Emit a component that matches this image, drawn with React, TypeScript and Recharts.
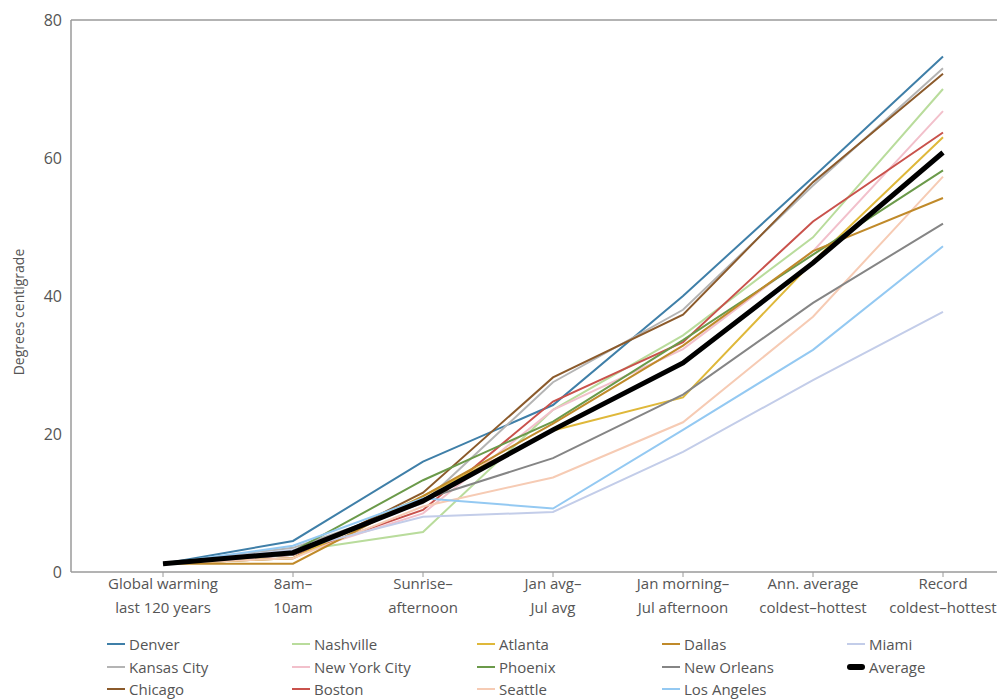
import React from 'react';
import { LineChart, Line, XAxis, YAxis, ReferenceLine } from 'recharts';

// Categories along the x axis (two-line labels)
const categories = [
    'Global warming\nlast 120 years',
    '8am–\n10am',
    'Sunrise–\nafternoon',
    'Jan avg–\nJul avg',
    'Jan morning–\nJul afternoon',
    'Ann. average\ncoldest–hottest',
    'Record\ncoldest–hottest',
];

const yTicks = [0, 20, 40, 60, 80];

// Values, one per category
const denver = [1.2, 4.5, 16.0, 24.2, 40.0, 57.2, 74.7];
const kansasCity = [1.2, 3.5, 10.0, 27.5, 38.0, 56.0, 73.0];
const chicago = [1.2, 2.0, 11.5, 28.2, 37.3, 56.5, 72.2];
const nashville = [1.2, 3.0, 5.8, 23.5, 34.3, 48.5, 70.0];
const newYorkCity = [1.2, 2.5, 8.5, 23.5, 32.3, 46.5, 66.8];
const boston = [1.2, 2.5, 9.0, 24.7, 33.3, 50.8, 63.7];
const atlanta = [1.2, 2.0, 11.0, 20.5, 25.3, 45.0, 63.0];
const phoenix = [1.2, 3.0, 13.3, 21.8, 33.6, 46.0, 58.2];
const seattle = [1.2, 2.0, 9.5, 13.7, 21.7, 37.0, 57.3];
const dallas = [1.2, 1.2, 11.0, 21.5, 32.8, 46.5, 54.2];
const newOrleans = [1.2, 2.5, 10.5, 16.5, 25.7, 39.0, 50.5];
const losAngeles = [1.2, 3.8, 10.7, 9.2, 20.6, 32.2, 47.2];
const miami = [1.2, 3.2, 8.0, 8.7, 17.4, 27.8, 37.7];
const average = [1.2, 2.8, 10.3, 20.6, 30.3, 44.8, 60.8];

const series = [
    { key: 'Denver', values: denver, color: '#3f7fa8' },
    { key: 'Kansas City', values: kansasCity, color: '#b4b4b4' },
    { key: 'Chicago', values: chicago, color: '#8b5a2b' },
    { key: 'Nashville', values: nashville, color: '#b9dc9c' },
    { key: 'New York City', values: newYorkCity, color: '#f2c0cb' },
    { key: 'Boston', values: boston, color: '#c9524c' },
    { key: 'Atlanta', values: atlanta, color: '#dfb83a' },
    { key: 'Phoenix', values: phoenix, color: '#6b9a4a' },
    { key: 'Seattle', values: seattle, color: '#f6cbb4' },
    { key: 'Dallas', values: dallas, color: '#c08a2a' },
    { key: 'New Orleans', values: newOrleans, color: '#858585' },
    { key: 'Los Angeles', values: losAngeles, color: '#94c9f2' },
    { key: 'Miami', values: miami, color: '#c3cde9' },
    { key: 'Average', values: average, color: '#000000' },
];

const data = categories.map((name, i) => {
    const row: Record<string, any> = { name };
    series.forEach(s => { row[s.key] = s.values[i]; });
    return row;
});

const FONT = '"Open Sans", "Noto Sans", sans-serif';
const AXIS = '#9a9a9a';
const TEXT = '#555';

const XTick = ({ x, y, payload }: any) => {
    const lines = String(payload.value).split('\n');
    return (
        <text x={x} y={y} textAnchor="middle" fill={TEXT} fontSize={15} fontFamily={FONT}>
            {lines.map((l, i) => (
                <tspan key={i} x={x} dy={i === 0 ? 10 : 24}>{l}</tspan>
            ))}
        </text>
    );
};

const YLabel = ({ viewBox }: any) => {
    const cx = 18;
    const cy = viewBox.y + viewBox.height / 2 + 16;
    return (
        <text x={cx} y={cy} transform={`rotate(-90 ${cx} ${cy})`} textAnchor="middle"
            dominantBaseline="central" fill={TEXT} fontSize={14} fontFamily={FONT}>
            Degrees centigrade
        </text>
    );
};

// Legend: 3 rows, filled column by column
const ChartLegend = () => (
    <div style={{
        position: 'absolute',
        top: 633,
        left: 107,
        display: 'grid',
        gridAutoFlow: 'column',
        gridTemplateRows: 'repeat(3, 22.5px)',
        gridTemplateColumns: 'repeat(5, 185px)',
        fontFamily: FONT,
        fontSize: 15,
        color: TEXT,
    }}>
        {series.map(s => (
            <div key={s.key} style={{ display: 'flex', alignItems: 'center' }}>
                <span style={{
                    display: 'inline-block',
                    width: 18,
                    height: s.key === 'Average' ? 6 : 2,
                    borderRadius: s.key === 'Average' ? 3 : 0,
                    background: s.color,
                    marginRight: 4,
                }} />
                {s.key}
            </div>
        ))}
    </div>
);

export default function App() {
    return (
        <div style={{ position: 'absolute', left: 0, top: 0, width: 1006, height: 700, background: '#fff' }}>
            <LineChart width={1006} height={700} data={data}
                margin={{ top: 20, right: 9, left: 0, bottom: 68 }}>
                <XAxis
                    dataKey="name"
                    interval={0}
                    padding={{ left: 92, right: 54 }}
                    tick={<XTick />}
                    tickSize={5}
                    tickLine={{ stroke: AXIS }}
                    axisLine={{ stroke: AXIS, strokeWidth: 1.5 }}
                    height={60}
                />
                <YAxis
                    domain={[0, 80]}
                    ticks={yTicks}
                    width={71}
                    tickSize={0}
                    tickMargin={9}
                    tick={{ fill: TEXT, fontSize: 16, fontFamily: FONT }}
                    axisLine={{ stroke: AXIS, strokeWidth: 1.5 }}
                    label={YLabel}
                />
                <YAxis yAxisId="right" orientation="right" domain={[0, 80]} tick={false} tickLine={false}
                    axisLine={{ stroke: AXIS, strokeWidth: 1.5 }} width={0} />
                <ReferenceLine y={80} stroke={AXIS} strokeWidth={1.5} />
                {series.map(s => (
                    <Line
                        key={s.key}
                        dataKey={s.key}
                        stroke={s.color}
                        strokeWidth={s.key === 'Average' ? 5 : 2}
                        dot={false}
                        activeDot={false}
                        isAnimationActive={false}
                    />
                ))}
            </LineChart>
            <ChartLegend />
        </div>
    );
}
